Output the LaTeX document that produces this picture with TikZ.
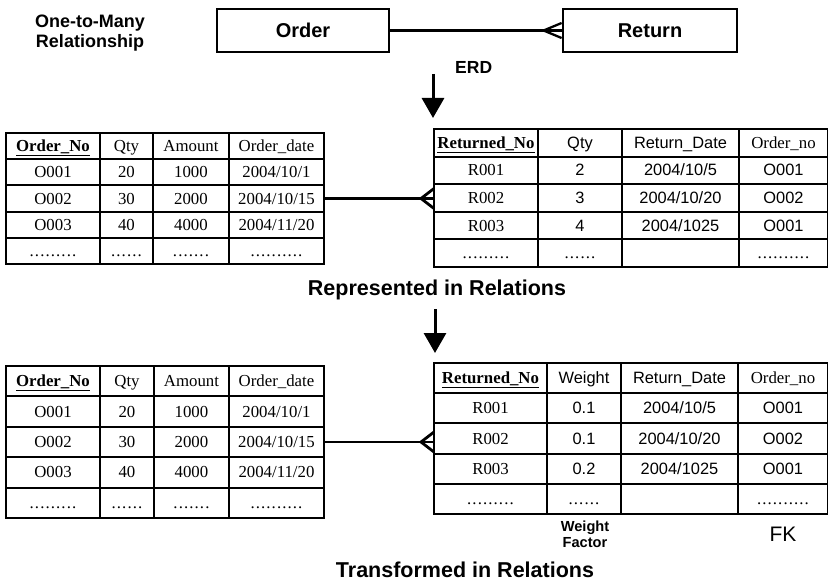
\documentclass[tikz,border=0pt]{standalone}
\usepackage{fontspec}
\setmainfont{Liberation Serif}
\setsansfont{Liberation Sans}
\usetikzlibrary{matrix,arrows.meta}

% evenly spaced dots filling a box of the given width
\newcommand\celldots[1]{\hbox to #1{\cleaders\hbox to 5.3pt{\hss.\hss}\hfill}}
\newcommand\fs[2]{\fontsize{#1}{#2}\selectfont}
% sans-serif cell text
\newcommand\sanscell[1]{{\sffamily\fs{16.4}{18}#1}}

\begin{document}
\begin{tikzpicture}[x=1pt,y=1pt,
  entity/.style={draw, line width=2.8pt, minimum height=43pt, inner sep=0pt,
    font=\sffamily\bfseries\fs{20}{22}, text height=14.3pt, text depth=0pt},
  heading/.style={font=\sffamily\bfseries\fs{21.5}{24}, inner sep=0pt, anchor=base},
  relation/.style={matrix of nodes, nodes in empty cells, inner sep=0pt, outer sep=0pt,
    column sep=-2pt, row sep=-2pt, anchor=north west,
    nodes={draw, line width=2pt, inner sep=0pt, outer sep=0pt, anchor=center,
      minimum height=#1, text height=11pt, text depth=0pt, font=\fs{16.8}{18}}},
  link/.style={line width=2.8pt},
  flow/.style={line width=3pt, -{Triangle[width=22pt,length=20pt]}},
]
\useasboundingbox (0,0) rectangle (828,-583);

% ---- ER diagram ----
\node[font=\sffamily\bfseries\fs{18}{20}, align=center, inner sep=0pt] (kind) at (90,-33.4)
  {One-to-Many\\Relationship};
\node[entity, minimum width=172pt] (order) at (303,-30.5) {Order};
\node[entity, minimum width=174pt] (ret) at (650,-30.5) {Return};
\draw[line width=2.3pt] (order.east) -- (ret.west);
\draw[line width=2.3pt] ([yshift=7.5pt]ret.west) -- ([xshift=-18pt]ret.west) -- ([yshift=-7.5pt]ret.west);

\node[font=\sffamily\bfseries\fs{17.5}{20}, anchor=base west, inner sep=0pt] (erd) at (455,-74) {ERD};
\coordinate (down1) at (433,-74);
\coordinate (down1tip) at (433,-118);
\draw[flow] (down1) -- (down1tip);

% ---- relations ----
\matrix[relation=26.2pt,
  column 1/.style={nodes={minimum width=94pt}},
  column 2/.style={nodes={minimum width=53pt}},
  column 3/.style={nodes={minimum width=76pt}},
  column 4/.style={nodes={minimum width=95pt}}] (a) at (5,-132) {
  \textbf{\underline{Order\_No}} & Qty & Amount & Order\_date \\
  O001 & 20 & 1000 & 2004/10/1 \\
  O002 & 30 & 2000 & 2004/10/15 \\
  O003 & 40 & 4000 & 2004/11/20 \\
  \celldots{48pt} & \celldots{32pt} & \celldots{42pt} & \celldots{53pt} \\
};

\matrix[relation=27.6pt,
  column 1/.style={nodes={minimum width=104pt}},
  column 2/.style={nodes={minimum width=84pt}},
  column 3/.style={nodes={minimum width=117pt}},
  column 4/.style={nodes={minimum width=89pt}}] (b) at (433,-128) {
  \textbf{\underline{Returned\_No}} & \sanscell{Qty} & \sanscell{Return\_Date} & Order\_no \\
  R001 & \sanscell{2} & \sanscell{2004/10/5} & \sanscell{O001} \\
  R002 & \sanscell{3} & \sanscell{2004/10/20} & \sanscell{O002} \\
  R003 & \sanscell{4} & \sanscell{2004/1025} & \sanscell{O001} \\
  \celldots{48pt} & \celldots{32pt} & & \celldots{53pt} \\
};

\draw[link] (a-3-4.east) -- (a-3-4.east -| b-3-1.west) coordinate (ab);
\draw[link] ([yshift=10pt]ab) -- ([xshift=-13pt]ab) -- ([yshift=-10pt]ab);

\node[heading] (represented) at (437,-295) {Represented in Relations};
\coordinate (down2) at (435,-309);
\coordinate (down2tip) at (435,-353);
\draw[flow] (down2) -- (down2tip);

\matrix[relation=30.4pt,
  column 1/.style={nodes={minimum width=94pt}},
  column 2/.style={nodes={minimum width=54pt}},
  column 3/.style={nodes={minimum width=75pt}},
  column 4/.style={nodes={minimum width=95pt}}] (c) at (5,-365) {
  \textbf{\underline{Order\_No}} & Qty & Amount & Order\_date \\
  O001 & 20 & 1000 & 2004/10/1 \\
  O002 & 30 & 2000 & 2004/10/15 \\
  O003 & 40 & 4000 & 2004/11/20 \\
  \celldots{48pt} & \celldots{32pt} & \celldots{42pt} & \celldots{53pt} \\
};

\matrix[relation=30.2pt,
  column 1/.style={nodes={minimum width=113pt}},
  column 2/.style={nodes={minimum width=74pt}},
  column 3/.style={nodes={minimum width=117pt}},
  column 4/.style={nodes={minimum width=90pt}}] (d) at (433,-362) {
  \textbf{\underline{Returned\_No}} & \sanscell{Weight} & \sanscell{Return\_Date} & Order\_no \\
  R001 & \sanscell{0.1} & \sanscell{2004/10/5} & \sanscell{O001} \\
  R002 & \sanscell{0.1} & \sanscell{2004/10/20} & \sanscell{O002} \\
  R003 & \sanscell{0.2} & \sanscell{2004/1025} & \sanscell{O001} \\
  \celldots{48pt} & \celldots{32pt} & & \celldots{53pt} \\
};

\draw[link] (c-3-4.east) -- (c-3-4.east -| d-3-1.west) coordinate (cd);
\draw[link] ([yshift=10pt]cd) -- ([xshift=-13pt]cd) -- ([yshift=-10pt]cd);

\node[font=\sffamily\bfseries\fs{14.6}{16}, align=center, inner sep=0pt] (wf) at (585,-533.8)
  {Weight\\Factor};
\node[font=\sffamily\fs{21}{24}, inner sep=0pt, text height=15pt, text depth=0pt] (fk)
  at (783,-533.5) {FK};

\node[heading] (transformed) at (465,-577) {Transformed in Relations};
\end{tikzpicture}
\end{document}
